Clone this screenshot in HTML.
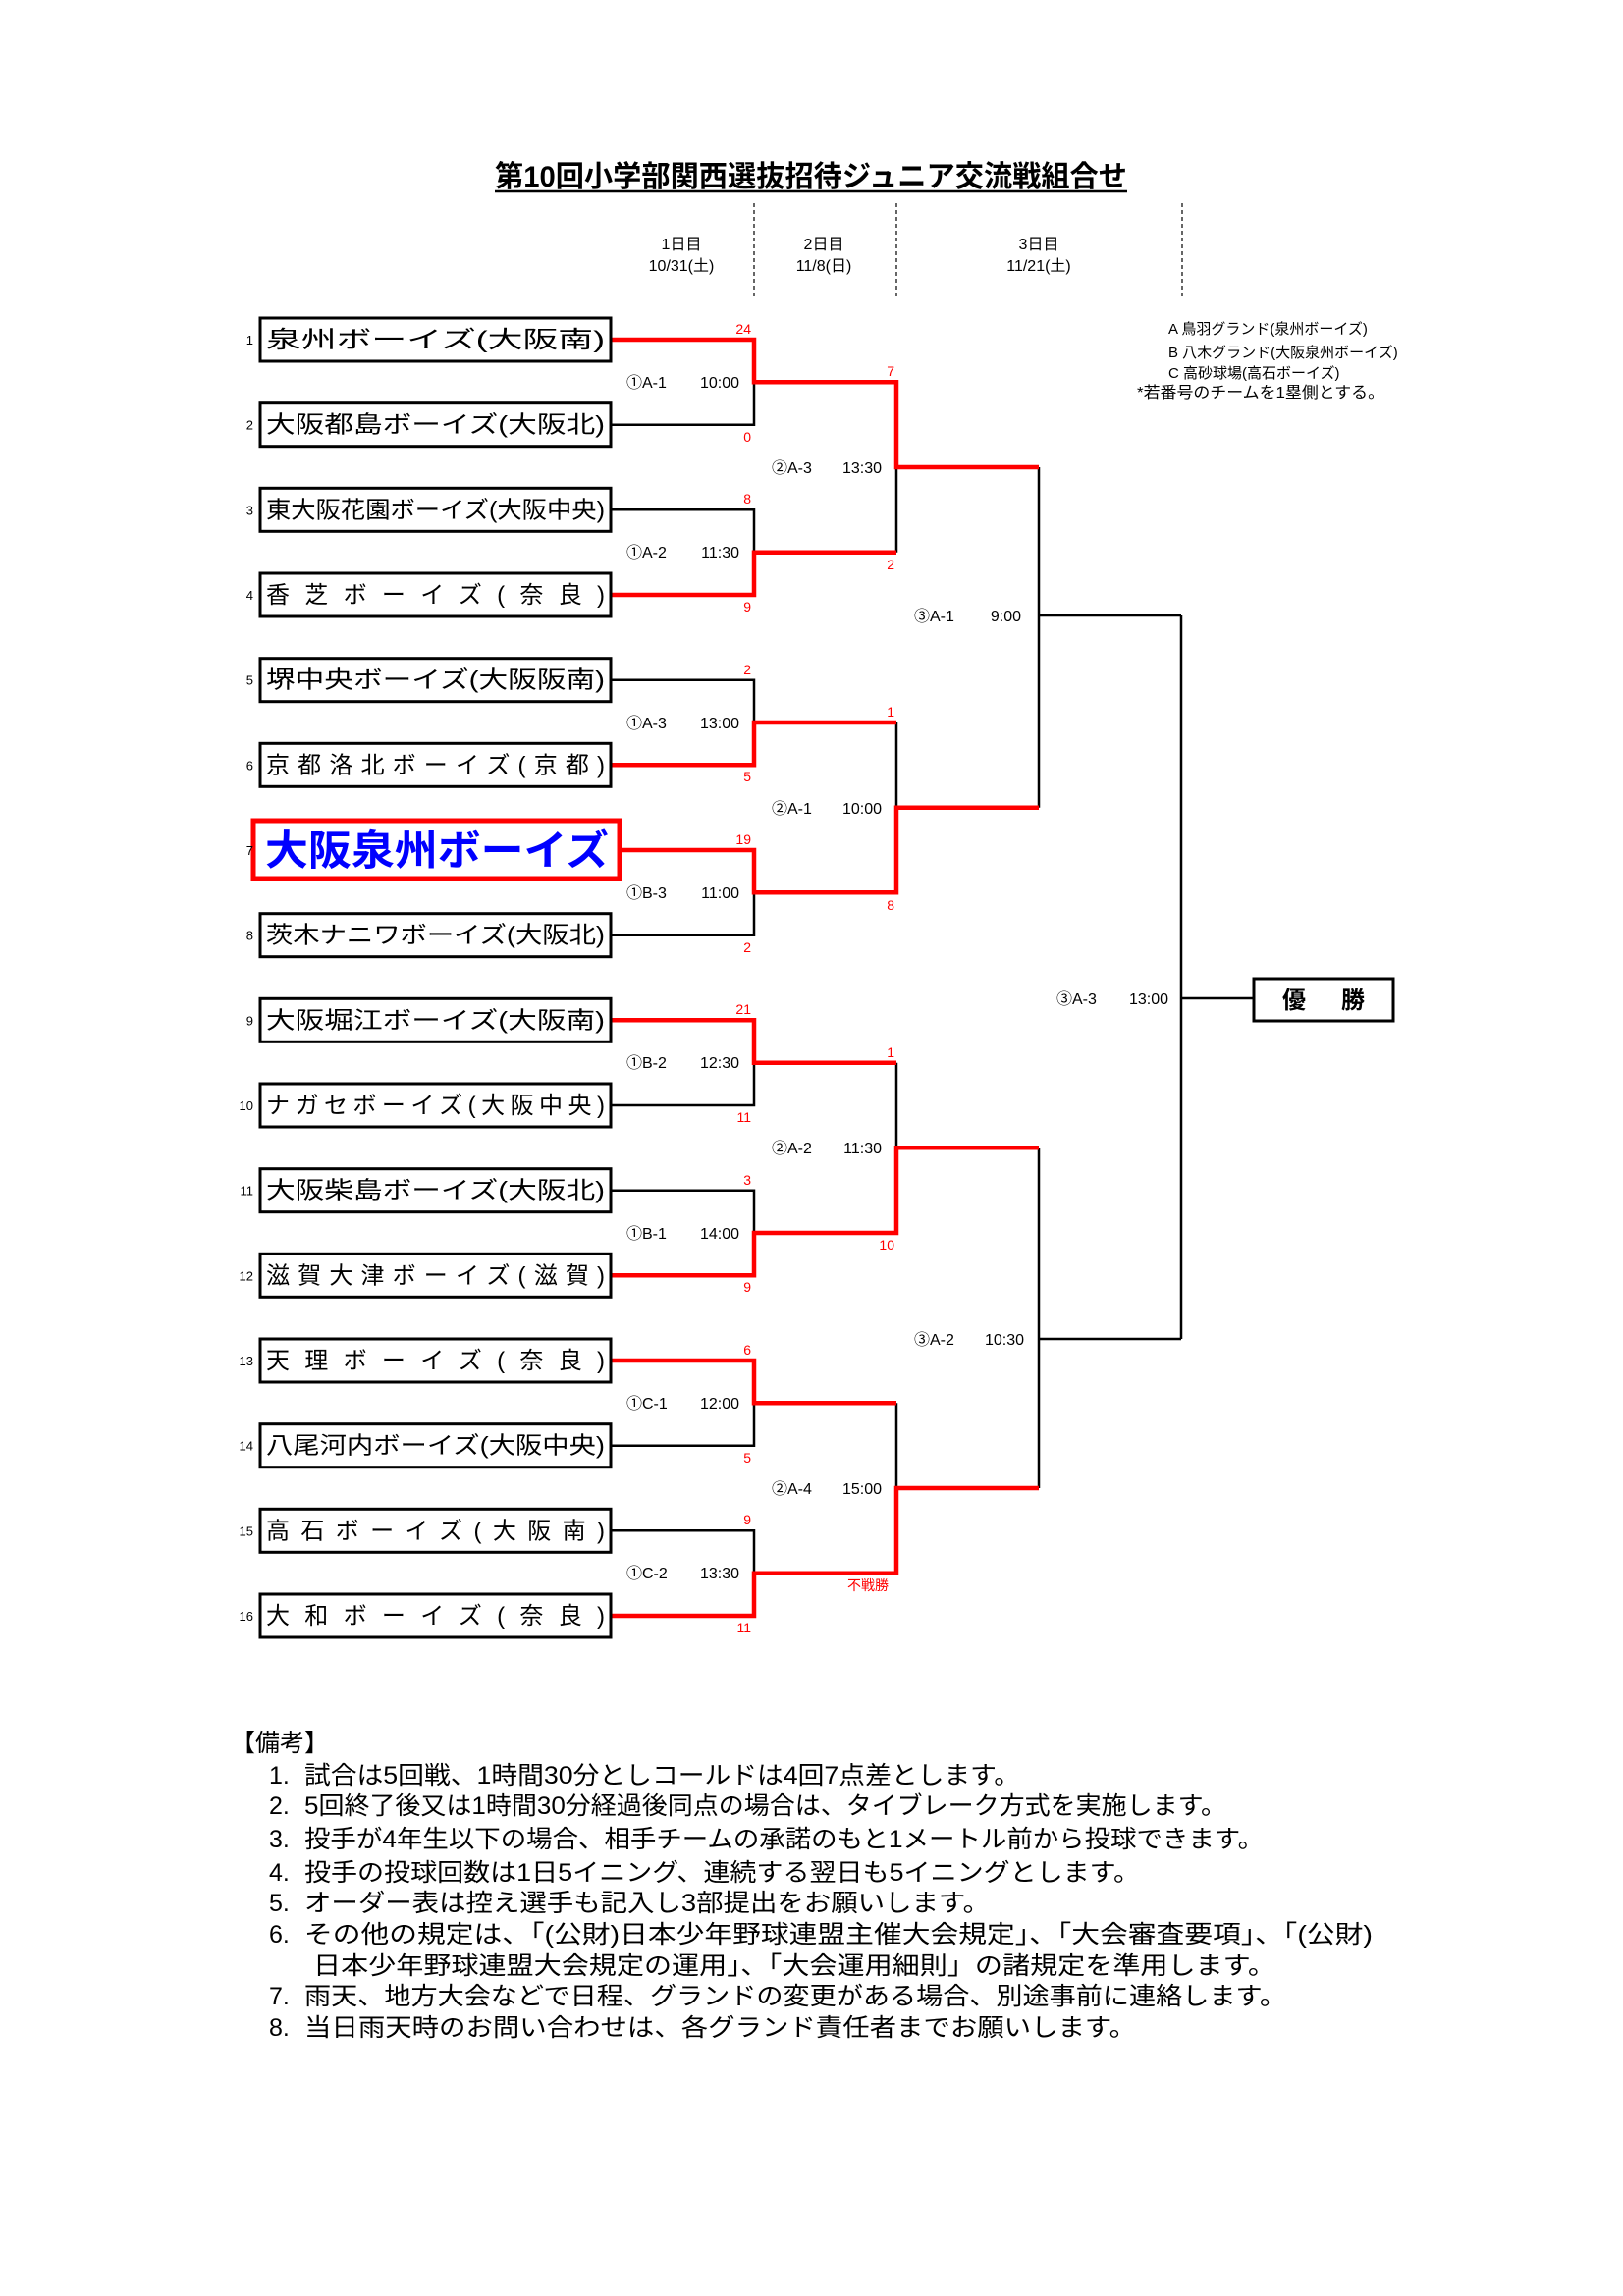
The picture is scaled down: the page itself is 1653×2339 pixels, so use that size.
<!DOCTYPE html>
<html><head><meta charset="utf-8"><style>
html,body{margin:0;padding:0;background:#fff;}
svg{display:block;}
text{font-family:"Liberation Sans","Noto Sans CJK JP",sans-serif;}
</style></head><body>
<svg width="1653" height="2339" viewBox="0 0 1653 2339" xmlns="http://www.w3.org/2000/svg">
<!-- title -->
<text x="504" y="190" font-size="30" font-weight="bold" textLength="644" lengthAdjust="spacingAndGlyphs">第10回小学部関西選抜招待ジュニア交流戦組合せ</text>
<line x1="504" y1="195" x2="1148" y2="195" stroke="#000" stroke-width="2.5"/>
<!-- headers -->
<g font-size="16" text-anchor="middle">
<text x="694" y="254">1日目</text><text x="694" y="276">10/31(土)</text>
<text x="839" y="254">2日目</text><text x="839" y="276">11/8(日)</text>
<text x="1058" y="254">3日目</text><text x="1058" y="276">11/21(土)</text>
</g>
<g stroke="#000" stroke-width="1.2" stroke-dasharray="4,3">
<line x1="768" y1="207" x2="768" y2="303"/><line x1="913" y1="207" x2="913" y2="303"/><line x1="1204" y1="207" x2="1204" y2="303"/>
</g>
<!-- legend -->
<g font-size="15">
<text x="1190" y="340">A 鳥羽グランド(泉州ボーイズ)</text>
<text x="1190" y="364">B 八木グランド(大阪泉州ボーイズ)</text>
<text x="1190" y="385">C 高砂球場(高石ボーイズ)</text>
<text x="1158" y="405" font-size="16" textLength="252" lengthAdjust="spacingAndGlyphs">*若番号のチームを1塁側とする。</text>
</g>

<!-- black lines -->
<g stroke="#000" stroke-width="2.5" fill="none">
<!-- m1: winner top -->
<polyline points="622,432.7 768,432.7 768,389.3"/>
<!-- m2: winner bottom -->
<polyline points="622,519.3 768,519.3 768,562.7"/>
<!-- m3 bottom -->
<polyline points="622,692.7 768,692.7 768,736"/>
<!-- m4 top -->
<polyline points="622,952.7 768,952.7 768,909.3"/>
<!-- m5 top -->
<polyline points="622,1126 768,1126 768,1082.7"/>
<!-- m6 bottom -->
<polyline points="622,1212.7 768,1212.7 768,1256"/>
<!-- m7 top -->
<polyline points="622,1472.7 768,1472.7 768,1429.3"/>
<!-- m8 bottom -->
<polyline points="622,1559.3 768,1559.3 768,1602.7"/>
<!-- round2 losers -->
<line x1="913" y1="476" x2="913" y2="562.7"/>
<line x1="913" y1="736" x2="913" y2="822.7"/>
<line x1="913" y1="1082.7" x2="913" y2="1169.3"/>
<line x1="913" y1="1429.3" x2="913" y2="1516"/>
<!-- round3 -->
<line x1="1058" y1="476" x2="1058" y2="822.7"/>
<line x1="1058" y1="627" x2="1203" y2="627"/>
<line x1="1058" y1="1169.3" x2="1058" y2="1516"/>
<line x1="1058" y1="1364" x2="1203" y2="1364"/>
<line x1="1203" y1="627" x2="1203" y2="1364"/>
<line x1="1203" y1="1017" x2="1276" y2="1017"/>
</g>
<!-- red lines -->
<g stroke="#ff0000" stroke-width="4.5" fill="none">
<polyline points="622,346 768,346 768,389.3 913,389.3 913,476 1058,476"/>
<polyline points="622,606 768,606 768,562.7 913,562.7"/>
<polyline points="622,779.3 768,779.3 768,736 913,736"/>
<polyline points="633,866 768,866 768,909.3 913,909.3 913,822.7 1058,822.7"/>
<polyline points="622,1039.3 768,1039.3 768,1082.7 913,1082.7"/>
<polyline points="622,1299.3 768,1299.3 768,1256 913,1256 913,1169.3 1058,1169.3"/>
<polyline points="622,1386 768,1386 768,1429.3 913,1429.3"/>
<polyline points="622,1646 768,1646 768,1602.7 913,1602.7 913,1516 1058,1516"/>
</g>

<!-- team boxes -->
<g fill="none" stroke="#000" stroke-width="3">
<rect x="265" y="324" width="357" height="44"/>
<rect x="265" y="410.7" width="357" height="44"/>
<rect x="265" y="497.3" width="357" height="44"/>
<rect x="265" y="584" width="357" height="44"/>
<rect x="265" y="670.7" width="357" height="44"/>
<rect x="265" y="757.3" width="357" height="44"/>
<rect x="265" y="930.7" width="357" height="44"/>
<rect x="265" y="1017.3" width="357" height="44"/>
<rect x="265" y="1104" width="357" height="44"/>
<rect x="265" y="1190.7" width="357" height="44"/>
<rect x="265" y="1277.3" width="357" height="44"/>
<rect x="265" y="1364" width="357" height="44"/>
<rect x="265" y="1450.7" width="357" height="44"/>
<rect x="265" y="1537.3" width="357" height="44"/>
<rect x="265" y="1624" width="357" height="44"/>
</g>
<rect x="258" y="836" width="373" height="59" fill="none" stroke="#ff0000" stroke-width="5"/>
<text x="270" y="881" font-size="42" font-weight="bold" fill="#0000ff" textLength="350" lengthAdjust="spacingAndGlyphs">大阪泉州ボーイズ</text>

<g font-size="24">
<text x="271" y="354" textLength="345" lengthAdjust="spacingAndGlyphs">泉州ボーイズ(大阪南)</text>
<text x="271" y="440.7" textLength="345" lengthAdjust="spacingAndGlyphs">大阪都島ボーイズ(大阪北)</text>
<text x="271" y="527.3" textLength="345" lengthAdjust="spacingAndGlyphs">東大阪花園ボーイズ(大阪中央)</text>
<text x="271" y="614" textLength="345" lengthAdjust="spacing">香芝ボーイズ(奈良)</text>
<text x="271" y="700.7" textLength="345" lengthAdjust="spacingAndGlyphs">堺中央ボーイズ(大阪阪南)</text>
<text x="271" y="787.3" textLength="345" lengthAdjust="spacing">京都洛北ボーイズ(京都)</text>
<text x="271" y="960.7" textLength="345" lengthAdjust="spacingAndGlyphs">茨木ナニワボーイズ(大阪北)</text>
<text x="271" y="1047.3" textLength="345" lengthAdjust="spacingAndGlyphs">大阪堀江ボーイズ(大阪南)</text>
<text x="271" y="1134" textLength="345" lengthAdjust="spacing">ナガセボーイズ(大阪中央)</text>
<text x="271" y="1220.7" textLength="345" lengthAdjust="spacingAndGlyphs">大阪柴島ボーイズ(大阪北)</text>
<text x="271" y="1307.3" textLength="345" lengthAdjust="spacing">滋賀大津ボーイズ(滋賀)</text>
<text x="271" y="1394" textLength="345" lengthAdjust="spacing">天理ボーイズ(奈良)</text>
<text x="271" y="1480.7" textLength="345" lengthAdjust="spacingAndGlyphs">八尾河内ボーイズ(大阪中央)</text>
<text x="271" y="1567.3" textLength="345" lengthAdjust="spacing">高石ボーイズ(大阪南)</text>
<text x="271" y="1654" textLength="345" lengthAdjust="spacing">大和ボーイズ(奈良)</text>
</g>
<!-- seed numbers -->
<g font-size="13" text-anchor="end">
<text x="258" y="351">1</text><text x="258" y="437.7">2</text><text x="258" y="524.3">3</text><text x="258" y="611">4</text>
<text x="258" y="697.7">5</text><text x="258" y="784.3">6</text><text x="258" y="871">7</text><text x="258" y="957.7">8</text>
<text x="258" y="1044.3">9</text><text x="258" y="1131">10</text><text x="258" y="1217.7">11</text><text x="258" y="1304.3">12</text>
<text x="258" y="1391">13</text><text x="258" y="1477.7">14</text><text x="258" y="1564.3">15</text><text x="258" y="1651">16</text>
</g>

<!-- scores -->
<g font-size="14" fill="#ff0000" text-anchor="end">
<text x="765" y="340">24</text><text x="765" y="450">0</text>
<text x="765" y="513">8</text><text x="765" y="623">9</text>
<text x="765" y="687">2</text><text x="765" y="796">5</text>
<text x="765" y="860">19</text><text x="765" y="970">2</text>
<text x="765" y="1033">21</text><text x="765" y="1143">11</text>
<text x="765" y="1207">3</text><text x="765" y="1316">9</text>
<text x="765" y="1380">6</text><text x="765" y="1490">5</text>
<text x="765" y="1553">9</text><text x="765" y="1663">11</text>
<text x="911" y="383">7</text><text x="911" y="580">2</text>
<text x="911" y="730">1</text><text x="911" y="927">8</text>
<text x="911" y="1077">1</text><text x="911" y="1273">10</text>
<text x="884" y="1620" text-anchor="middle" font-size="14">不戦勝</text>
</g>

<!-- match labels -->
<g font-size="16">
<text x="638" y="395">①A-1</text><text x="753" y="395" text-anchor="end">10:00</text>
<text x="638" y="568">①A-2</text><text x="753" y="568" text-anchor="end">11:30</text>
<text x="638" y="742">①A-3</text><text x="753" y="742" text-anchor="end">13:00</text>
<text x="638" y="915">①B-3</text><text x="753" y="915" text-anchor="end">11:00</text>
<text x="638" y="1088">①B-2</text><text x="753" y="1088" text-anchor="end">12:30</text>
<text x="638" y="1262">①B-1</text><text x="753" y="1262" text-anchor="end">14:00</text>
<text x="638" y="1435">①C-1</text><text x="753" y="1435" text-anchor="end">12:00</text>
<text x="638" y="1608">①C-2</text><text x="753" y="1608" text-anchor="end">13:30</text>
<text x="786" y="482">②A-3</text><text x="898" y="482" text-anchor="end">13:30</text>
<text x="786" y="829">②A-1</text><text x="898" y="829" text-anchor="end">10:00</text>
<text x="786" y="1175">②A-2</text><text x="898" y="1175" text-anchor="end">11:30</text>
<text x="786" y="1522">②A-4</text><text x="898" y="1522" text-anchor="end">15:00</text>
<text x="931" y="633">③A-1</text><text x="1040" y="633" text-anchor="end">9:00</text>
<text x="931" y="1370">③A-2</text><text x="1043" y="1370" text-anchor="end">10:30</text>
<text x="1076" y="1023">③A-3</text><text x="1190" y="1023" text-anchor="end">13:00</text>
</g>

<!-- champion -->
<rect x="1277" y="997" width="142" height="43" fill="none" stroke="#000" stroke-width="3"/>
<text x="1306" y="1027" font-size="24" font-weight="bold">優</text>
<text x="1366" y="1027" font-size="24" font-weight="bold">勝</text>

<!-- notes -->
<g font-size="25">
<text x="235" y="1784" textLength="100" lengthAdjust="spacingAndGlyphs">【備考】</text>
<text x="274" y="1817">1.</text><text x="310" y="1817" textLength="729" lengthAdjust="spacingAndGlyphs">試合は5回戦、1時間30分としコールドは4回7点差とします。</text>
<text x="274" y="1848">2.</text><text x="310" y="1848" textLength="939" lengthAdjust="spacingAndGlyphs">5回終了後又は1時間30分経過後同点の場合は、タイブレーク方式を実施します。</text>
<text x="274" y="1882">3.</text><text x="310" y="1882" textLength="977" lengthAdjust="spacingAndGlyphs">投手が4年生以下の場合、相手チームの承諾のもと1メートル前から投球できます。</text>
<text x="274" y="1916">4.</text><text x="310" y="1916" textLength="851" lengthAdjust="spacingAndGlyphs">投手の投球回数は1日5イニング、連続する翌日も5イニングとします。</text>
<text x="274" y="1947">5.</text><text x="310" y="1947" textLength="698" lengthAdjust="spacingAndGlyphs">オーダー表は控え選手も記入し3部提出をお願いします。</text>
<text x="274" y="1979">6.</text><text x="310" y="1979" textLength="1088" lengthAdjust="spacingAndGlyphs">その他の規定は、「(公財)日本少年野球連盟主催大会規定」、「大会審査要項」、「(公財)</text>
<text x="319" y="2011" textLength="980" lengthAdjust="spacingAndGlyphs">日本少年野球連盟大会規定の運用」、「大会運用細則」の諸規定を準用します。</text>
<text x="274" y="2042">7.</text><text x="310" y="2042" textLength="1000" lengthAdjust="spacingAndGlyphs">雨天、地方大会などで日程、グランドの変更がある場合、別途事前に連絡します。</text>
<text x="274" y="2074">8.</text><text x="310" y="2074" textLength="847" lengthAdjust="spacingAndGlyphs">当日雨天時のお問い合わせは、各グランド責任者までお願いします。</text>
</g>
</svg>
</body></html>
